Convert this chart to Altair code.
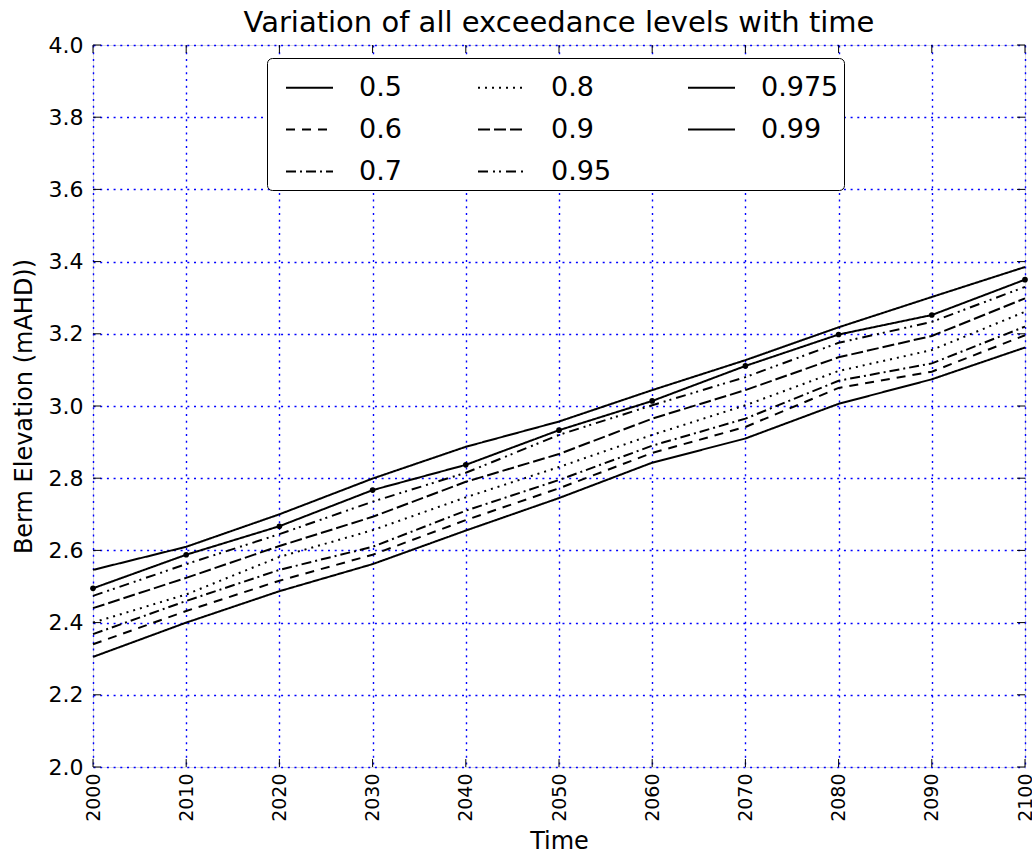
import altair as alt
import pandas as pd

years = [2000, 2010, 2020, 2030, 2040, 2050, 2060, 2070, 2080, 2090, 2100]
levels = ["0.5", "0.6", "0.7", "0.8", "0.9", "0.95", "0.975", "0.99"]

v050 = [2.305, 2.400, 2.487, 2.562, 2.655, 2.745, 2.843, 2.910, 3.006, 3.074, 3.162]
v060 = [2.340, 2.432, 2.516, 2.588, 2.684, 2.772, 2.870, 2.942, 3.050, 3.095, 3.196]
v070 = [2.368, 2.460, 2.546, 2.610, 2.710, 2.795, 2.890, 2.965, 3.070, 3.118, 3.220]
v080 = [2.400, 2.478, 2.582, 2.656, 2.747, 2.831, 2.920, 3.002, 3.097, 3.155, 3.261]
v090 = [2.440, 2.524, 2.612, 2.693, 2.790, 2.867, 2.965, 3.044, 3.135, 3.194, 3.298]
v095 = [2.474, 2.562, 2.645, 2.735, 2.815, 2.920, 3.002, 3.080, 3.175, 3.233, 3.330]
v0975 = [2.495, 2.588, 2.667, 2.767, 2.837, 2.933, 3.014, 3.111, 3.198, 3.252, 3.350]
v099 = [2.546, 2.610, 2.700, 2.799, 2.887, 2.957, 3.044, 3.127, 3.218, 3.302, 3.385]

y_ticks = [2.0, 2.2, 2.4, 2.6, 2.8, 3.0, 3.2, 3.4, 3.6, 3.8, 4.0]

title_text = "Variation of all exceedance levels with time"
x_title = "Time"
y_title = "Berm Elevation (mAHD))"

series = [v050, v060, v070, v080, v090, v095, v0975, v099]

rows = []
for lev, vals in zip(levels, series):
    for yr, v in zip(years, vals):
        rows.append({"year": yr, "value": v, "level": lev})
df = pd.DataFrame(rows)

# legend order (column-major in 3 columns)
legend_order = ["0.5", "0.8", "0.975", "0.6", "0.9", "0.99", "0.7", "0.95"]
dash_map = {
    "0.5": [1, 0],
    "0.6": [9, 7],
    "0.7": [10, 4, 2, 4],
    "0.8": [2, 5],
    "0.9": [12, 4],
    "0.95": [10, 5, 2, 4, 2, 5],
    "0.975": [1, 0],
    "0.99": [1, 0],
}
dash_range = [dash_map[k] for k in legend_order]

xscale = alt.Scale(domain=[2000, 2100], nice=False, zero=False)
yscale = alt.Scale(domain=[2.0, 4.0], nice=False, zero=False)

xaxis = alt.Axis(values=years, format="d", labelAngle=270, labelAlign="right",
                 labelBaseline="middle", labelFontSize=19, labelFont="DejaVu Sans",
                 labelColor="black", labelPadding=6, ticks=False, domain=False,
                 grid=True, gridColor="blue", gridDash=[2, 4.7], gridWidth=1.4,
                 gridOpacity=1, title=x_title, titleFontSize=24,
                 titleFont="DejaVu Sans", titleFontWeight="normal",
                 titleColor="black", titlePadding=8)
yaxis = alt.Axis(values=y_ticks, format=".1f", labelFontSize=22,
                 labelFont="DejaVu Sans", labelColor="black", labelPadding=10,
                 ticks=False, domain=False, grid=True, gridColor="blue",
                 gridDash=[2, 4.7], gridWidth=1.4, gridOpacity=1,
                 title=y_title, titleFontSize=24, titleFont="DejaVu Sans",
                 titleFontWeight="normal", titleColor="black", titlePadding=12)

base = alt.Chart(df)

lines = base.mark_line(color="black", strokeWidth=2).encode(
    x=alt.X("year:Q", scale=xscale, axis=xaxis),
    y=alt.Y("value:Q", scale=yscale, axis=yaxis),
    strokeDash=alt.StrokeDash(
        "level:N",
        scale=alt.Scale(domain=legend_order, range=dash_range),
        legend=alt.Legend(
            title=None, orient="none", legendX=174, legendY=13, columns=3,
            direction="horizontal", fillColor="white", strokeColor="black",
            cornerRadius=5, padding=5, labelFontSize=27,
            labelFont="DejaVu Sans", labelColor="black", symbolType="stroke",
            symbolSize=2209, symbolStrokeColor="black", symbolStrokeWidth=2,
            symbolOffset=13, labelOffset=25, columnPadding=62, rowPadding=4,
        ),
    ),
    order=alt.Order("year:Q"),
)

points = base.transform_filter(alt.datum.level == "0.975").mark_circle(
    color="black", size=32, opacity=1
).encode(
    x=alt.X("year:Q", scale=xscale),
    y=alt.Y("value:Q", scale=yscale),
)

tick_x = pd.DataFrame({"year": years})
tick_y = pd.DataFrame({"yv": y_ticks})

ticks_bottom = alt.Chart(tick_x).mark_rule(color="black", strokeWidth=1).encode(
    x=alt.X("year:Q", scale=xscale), y=alt.value(722), y2=alt.value(714))
ticks_top = alt.Chart(tick_x).mark_rule(color="black", strokeWidth=1).encode(
    x=alt.X("year:Q", scale=xscale), y=alt.value(0), y2=alt.value(8))
ticks_left = alt.Chart(tick_y).mark_rule(color="black", strokeWidth=1).encode(
    y=alt.Y("yv:Q", scale=yscale), x=alt.value(0), x2=alt.value(8))
ticks_right = alt.Chart(tick_y).mark_rule(color="black", strokeWidth=1).encode(
    y=alt.Y("yv:Q", scale=yscale), x=alt.value(924), x2=alt.value(932))

chart = alt.layer(lines, points, ticks_bottom, ticks_top, ticks_left, ticks_right).properties(
    width=932, height=722,
    title=alt.TitleParams(text=title_text, fontSize=29, font="DejaVu Sans",
                          fontWeight="normal", color="black", anchor="middle",
                          frame="group", offset=-4),
    autosize=alt.AutoSizeParams(type="none"),
    padding={"left": 93, "top": 45, "right": 7, "bottom": 87},
).configure_view(stroke="black", strokeWidth=1.6).configure(background="white")

chart.save("out.html", embed_options={"renderer": "svg", "actions": False})
